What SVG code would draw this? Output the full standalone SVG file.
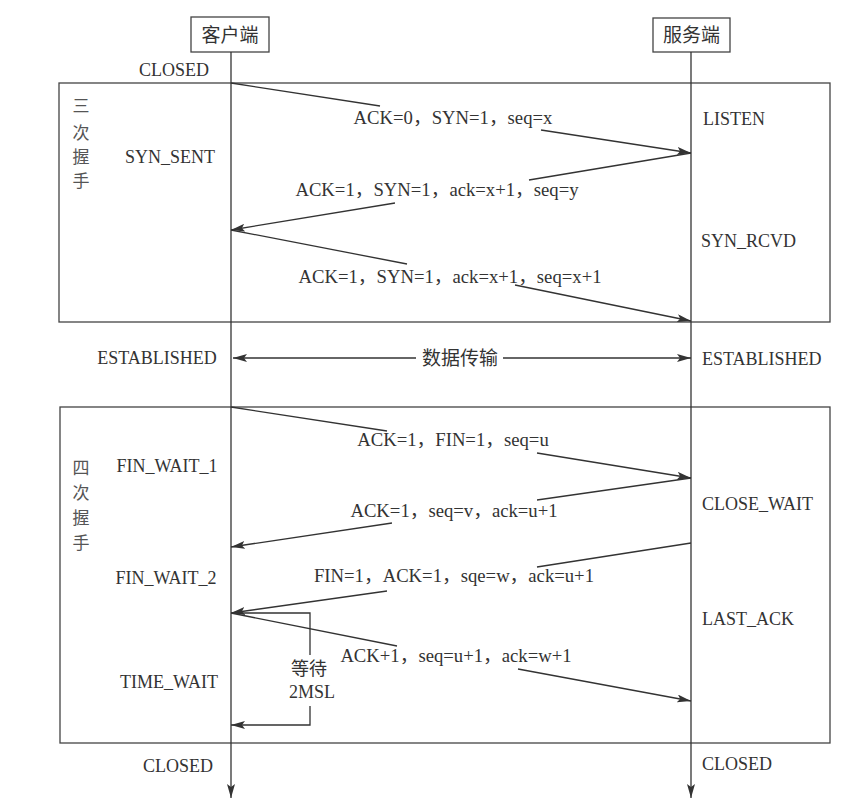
<svg xmlns="http://www.w3.org/2000/svg" width="860" height="810" viewBox="0 0 860 810">
<style>
.t{font-family:"Liberation Serif","Noto Sans CJK SC",serif;font-size:18px;fill:#333}
.g{font-size:18.7px}
.c{font-family:"Liberation Serif","Noto Sans CJK SC",serif;font-size:19px;fill:#333}
.v{font-family:"Liberation Serif","Noto Sans CJK SC",serif;font-size:17px;fill:#555;text-anchor:middle}
.m{text-anchor:middle}
.box{fill:none;stroke:#444;stroke-width:1.3}
.ln{fill:none;stroke:#333;stroke-width:1.3}
.ar{fill:none;stroke:#333;stroke-width:1.3;marker-end:url(#ah)}
</style>
<defs>
<marker id="ah" viewBox="0 0 14 8" refX="14" refY="4" markerWidth="14" markerHeight="8" orient="auto" markerUnits="userSpaceOnUse">
<path d="M0,0 L14,4 L0,8 L3,4 z" fill="#333"/>
</marker>
</defs>
<rect width="860" height="810" fill="#fff"/>

<g id="phase-handshake">
<rect class="box" x="59" y="83" width="771" height="239"/>
<text class="v" x="81" y="112">三</text>
<text class="v" x="81" y="139">次</text>
<text class="v" x="81" y="163">握</text>
<text class="v" x="81" y="187">手</text>
</g>
<g id="phase-teardown">
<rect class="box" x="60" y="407" width="770" height="336"/>
<text class="v" x="81" y="474">四</text>
<text class="v" x="81" y="499">次</text>
<text class="v" x="81" y="524">握</text>
<text class="v" x="81" y="549">手</text>
</g>

<g id="client">
<rect class="box" x="191" y="17" width="78" height="35" fill="#fff"/>
<text class="c m" x="230" y="42">客户端</text>
</g>
<g id="server">
<rect class="box" x="653" y="18" width="77" height="34" fill="#fff"/>
<text class="c m" x="691.5" y="42">服务端</text>
</g>

<g id="client-states">
<text class="t m" x="174" y="76">CLOSED</text>
<text class="t m" x="170" y="163">SYN_SENT</text>
<text class="t m" x="157" y="364">ESTABLISHED</text>
<text class="t m" x="167" y="472">FIN_WAIT_1</text>
<text class="t m" x="166" y="584">FIN_WAIT_2</text>
<text class="t m" x="169" y="688">TIME_WAIT</text>
<text class="t m" x="178" y="772">CLOSED</text>
</g>
<g id="server-states">
<text class="t" x="703" y="125">LISTEN</text>
<text class="t" x="701" y="247">SYN_RCVD</text>
<text class="t" x="702" y="365">ESTABLISHED</text>
<text class="t" x="702" y="510">CLOSE_WAIT</text>
<text class="t" x="702" y="625">LAST_ACK</text>
<text class="t" x="702" y="770">CLOSED</text>
</g>

<g id="connectors">
<line class="ar" x1="231" y1="52" x2="231" y2="798"/>
<line class="ar" x1="691" y1="52" x2="691" y2="798"/>

<line class="ln" x1="231" y1="83" x2="380" y2="106"/>
<line class="ar" x1="541" y1="130" x2="691" y2="153"/>
<text class="t g m" x="453" y="124">ACK=0，SYN=1，seq=x</text>

<line class="ln" x1="691" y1="153" x2="529" y2="180"/>
<line class="ar" x1="395" y1="203" x2="231" y2="230"/>
<text class="t g m" x="437" y="196">ACK=1，SYN=1，ack=x+1，seq=y</text>

<line class="ln" x1="231" y1="230" x2="407" y2="264"/>
<line class="ar" x1="515" y1="285" x2="691" y2="321"/>
<text class="t g m" x="450" y="283">ACK=1，SYN=1，ack=x+1，seq=x+1</text>

<line class="ln" x1="416" y1="358" x2="233" y2="358" marker-end="url(#ah)"/>
<line class="ar" x1="503" y1="358" x2="691" y2="358"/>
<text class="c m" x="460" y="365">数据传输</text>

<line class="ln" x1="231" y1="407" x2="387" y2="431"/>
<line class="ar" x1="537" y1="453" x2="691" y2="478"/>
<text class="t g m" x="453" y="446">ACK=1，FIN=1，seq=u</text>

<line class="ln" x1="691" y1="478" x2="537" y2="500"/>
<line class="ar" x1="392" y1="523" x2="231" y2="547"/>
<text class="t g m" x="454" y="517">ACK=1，seq=v，ack=u+1</text>

<line class="ln" x1="691" y1="543" x2="537" y2="567"/>
<line class="ar" x1="387" y1="591" x2="231" y2="613"/>
<text class="t g m" x="454" y="582">FIN=1，ACK=1，sqe=w，ack=u+1</text>

<line class="ln" x1="231" y1="613" x2="397" y2="646"/>
<line class="ar" x1="518" y1="669" x2="691" y2="701"/>
<text class="t g m" x="456" y="662">ACK+1，seq=u+1，ack=w+1</text>

<polyline class="ln" points="233,613 310,613 310,655"/>
<polyline class="ar" points="310,706 310,725 231,725"/>
<text class="t m" x="309" y="675">等待</text>
<text class="t m" x="312" y="698">2MSL</text>
</g>
</svg>
